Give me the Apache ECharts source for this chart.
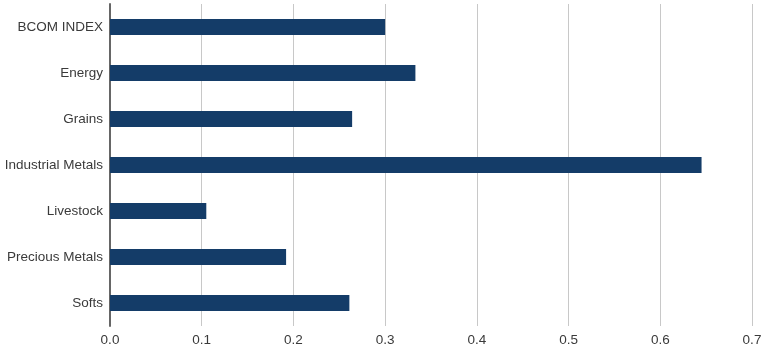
<!DOCTYPE html>
<html>
<head>
<meta charset="utf-8">
<script src="https://cdn.jsdelivr.net/npm/echarts@6/dist/echarts.min.js"></script>
<style>
  html, body { margin: 0; padding: 0; background: #fff; }
  #chart { width: 770px; height: 354px; }
</style>
</head>
<body>
<div id="chart"></div>
<script>
const categories = ["BCOM INDEX", "Energy", "Grains", "Industrial Metals", "Livestock", "Precious Metals", "Softs"];
const values = [0.300, 0.333, 0.264, 0.645, 0.105, 0.192, 0.261];
const xTicks = [0, 0.1, 0.2, 0.3, 0.4, 0.5, 0.6, 0.7];

const chart = echarts.init(document.getElementById("chart"));

chart.setOption({
  animation: false,
  grid: { left: 110, right: 18, top: 4, bottom: 28, containLabel: false },
  xAxis: {
    type: "value",
    min: xTicks[0],
    max: xTicks[xTicks.length - 1],
    interval: 0.1,
    axisLine: { show: false },
    axisTick: { show: false },
    axisLabel: {
      color: "#3a3a3a",
      fontFamily: "Liberation Sans, Arial, sans-serif",
      fontSize: 13.5,
      margin: 7,
      formatter: v => v.toFixed(1)
    },
    splitLine: { lineStyle: { color: "#c8c8c8", width: 1 } }
  },
  yAxis: {
    type: "category",
    data: categories,
    inverse: true,
    axisLine: { lineStyle: { color: "#666", width: 2 } },
    axisTick: { show: false },
    axisLabel: {
      color: "#3a3a3a",
      fontFamily: "Liberation Sans, Arial, sans-serif",
      fontSize: 13.5,
      margin: 7
    }
  },
  series: [
    {
      type: "bar",
      data: values,
      barWidth: 16,
      itemStyle: { color: "#143c68" }
    }
  ]
});
</script>
</body>
</html>
